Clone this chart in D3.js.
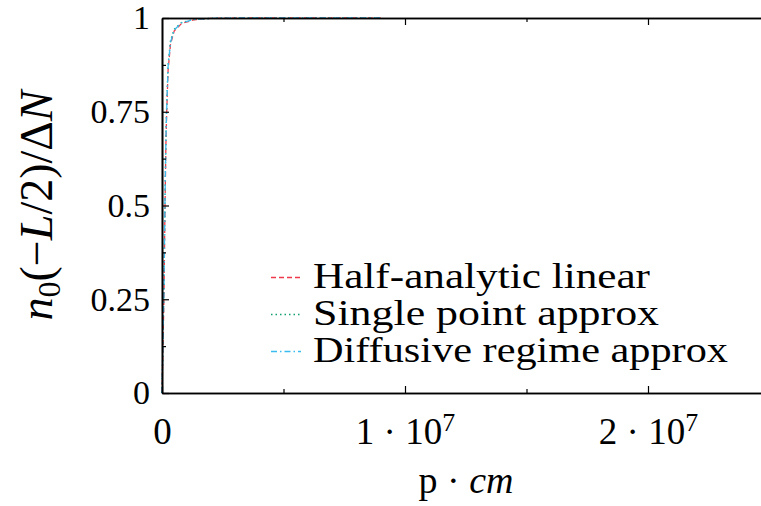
<!DOCTYPE html>
<html>
<head>
<meta charset="utf-8">
<script src="https://cdn.jsdelivr.net/npm/d3@7"></script>
<style>
  body { margin: 0; background: #fff; }
  svg { display: block; }
  svg text { font-family: "Liberation Serif", "DejaVu Serif", serif !important; fill: #000; }
</style>
</head>
<body>
<div class="chart-container"></div>
<script>
// --- data ---
const momentum = [0, 2e4, 5e4, 8e4, 1.2e5, 1.6e5, 1.9e5, 2.5e5, 3.5e5, 5e5, 8e5, 1.3e6, 2e6, 3e6, 5e6, 7e6, 9e6];
const halfAnalytic = [0, 0.06, 0.16, 0.25, 0.48, 0.66, 0.74, 0.86, 0.93, 0.965, 0.985, 0.995, 0.999, 1, 1, 1, 1];
const singlePoint = [0, 0.07, 0.18, 0.28, 0.5, 0.68, 0.76, 0.875, 0.94, 0.97, 0.988, 0.996, 0.999, 1, 1, 1, 1];
const diffusive = [0, 0.07, 0.18, 0.27, 0.5, 0.67, 0.75, 0.87, 0.935, 0.968, 0.987, 0.996, 0.999, 1, 1, 1, 1];
const seriesNames = ["Half-analytic linear", "Single point approx", "Diffusive regime approx"];
const xTicks = [0, 1e7, 2e7];
const xMinor = [5e6, 1.5e7];
const yTicks = [0, 0.25, 0.5, 0.75, 1];
const yMinor = [0.125, 0.375, 0.625, 0.875];

// --- layout ---
const w = 761, h = 506;
const plotLeft = 162, plotTop = 18, plotBottom = 393;
const plotRight = plotLeft + 2.5 * 243; // frame runs past the window edge
const legendWidths = [337, 346, 415];   // the original font is wider, stretch to match

const xScale = d3.scaleLinear().domain([0, 2.5e7]).range([plotLeft, plotRight]);
const yScale = d3.scaleLinear().domain([0, 1]).range([plotBottom, plotTop]);

const svg = d3.select(".chart-container").append("svg")
    .attr("width", w)
    .attr("height", h);

// data lines
const styles = [
    { color: "#ee3a4c", dash: "5,3" },
    { color: "#13a070", dash: "1.5,3" },
    { color: "#3bbbee", dash: "6,3,1.5,3" }
];
const series = [halfAnalytic, singlePoint, diffusive];

const line = d3.line()
    .x(function (d, i) { return xScale(momentum[i]); })
    .y(function (d) { return yScale(d); });

series.forEach(function (vals, k) {
    svg.append("path")
        .attr("d", line(vals))
        .attr("fill", "none")
        .attr("stroke", styles[k].color)
        .attr("stroke-width", 1.3)
        .attr("stroke-dasharray", styles[k].dash);
});

// axes: ticks point inward, mirrored on top
function styleAxis(g) {
    g.attr("font-family", null);
    g.selectAll("path.domain").attr("stroke", "#000").attr("stroke-width", 1.6);
    g.selectAll(".tick line").attr("stroke", "#000").attr("stroke-width", 1.2);
}

svg.append("g")
    .attr("transform", "translate(0," + plotBottom + ")")
    .call(d3.axisBottom(xScale).tickValues(xMinor).tickSizeInner(-4).tickSizeOuter(0).tickFormat(""))
    .call(styleAxis);

const xAxis = svg.append("g")
    .attr("transform", "translate(0," + plotBottom + ")")
    .call(d3.axisBottom(xScale).tickValues(xTicks).tickSizeInner(-7).tickSizeOuter(0).tickPadding(25))
    .call(styleAxis);

xAxis.selectAll(".tick text")
    .attr("font-size", 37)
    .text(null)
    .each(function (d) {
        const t = d3.select(this);
        if (d === 0) { t.text("0"); return; }
        t.append("tspan").text((d / 1e7) + " \u00b7 10");
        t.append("tspan").attr("font-size", "70%").attr("dy", "-0.5em").text("7");
    });

svg.append("g")
    .attr("transform", "translate(0," + plotTop + ")")
    .call(d3.axisTop(xScale).tickValues(xMinor).tickSizeInner(-4).tickSizeOuter(0).tickFormat(""))
    .call(styleAxis);

svg.append("g")
    .attr("transform", "translate(0," + plotTop + ")")
    .call(d3.axisTop(xScale).tickValues(xTicks.slice(1)).tickSizeInner(-7).tickSizeOuter(0).tickFormat(""))
    .call(styleAxis);

svg.append("g")
    .attr("transform", "translate(" + plotLeft + ",0)")
    .call(d3.axisLeft(yScale).tickValues(yMinor).tickSizeInner(-4).tickSizeOuter(0).tickFormat(""))
    .call(styleAxis);

svg.append("g")
    .attr("transform", "translate(" + plotLeft + ",0)")
    .call(d3.axisLeft(yScale).tickValues(yTicks).tickSizeInner(-7).tickSizeOuter(0).tickPadding(12)
        .tickFormat(function (d) { return d; }))
    .call(styleAxis)
    .selectAll(".tick text")
    .attr("font-size", 34);

// axis titles
const yLabel = svg.append("text")
    .attr("transform", "translate(52," + ((plotTop + plotBottom) / 2) + ") rotate(-90)")
    .attr("text-anchor", "middle")
    .attr("font-size", 46);
yLabel.append("tspan").attr("font-style", "italic").text("n");
yLabel.append("tspan").attr("font-size", "70%").attr("dy", "0.25em").text("0");
yLabel.append("tspan").attr("dy", "-0.175em").text("(\u2212");
yLabel.append("tspan").attr("font-style", "italic").text("L");
yLabel.append("tspan").text("/2)/\u0394");
yLabel.append("tspan").attr("font-style", "italic").text("N");

const xLabel = svg.append("text")
    .attr("x", 466)
    .attr("y", 493)
    .attr("text-anchor", "middle")
    .attr("font-size", 38);
xLabel.append("tspan").text("p \u00b7 ");
xLabel.append("tspan").attr("font-style", "italic").text("cm");

// legend
const legend = svg.append("g");
seriesNames.forEach(function (name, k) {
    const base = 288 + k * 37;
    legend.append("line")
        .attr("x1", 271).attr("x2", 301)
        .attr("y1", base - 10.5).attr("y2", base - 10.5)
        .attr("stroke", styles[k].color)
        .attr("stroke-width", 1.3)
        .attr("stroke-dasharray", styles[k].dash);
    legend.append("text")
        .attr("x", 313)
        .attr("y", base)
        .attr("font-size", 36)
        .attr("textLength", legendWidths[k])
        .attr("lengthAdjust", "spacingAndGlyphs")
        .text(name);
});
</script>
</body>
</html>
